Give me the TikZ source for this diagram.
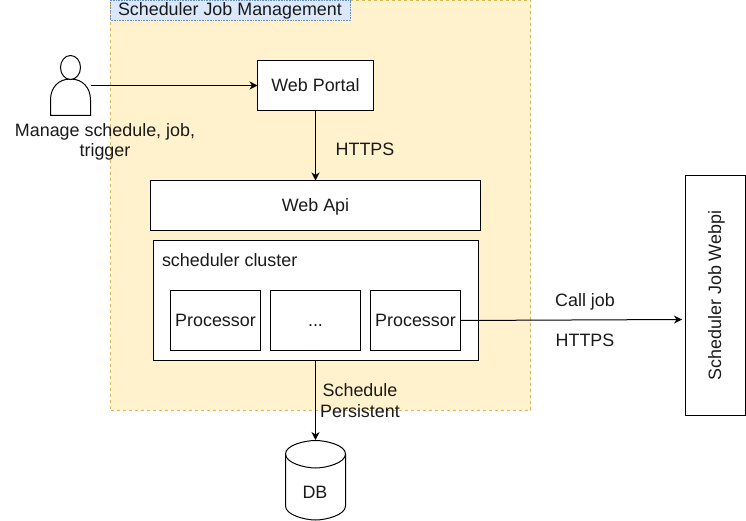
\documentclass[tikz,border=0pt]{standalone}
\usepackage{fontspec}
\setmainfont{Liberation Sans}
\usetikzlibrary{arrows.meta,shapes.geometric}
\definecolor{zonefill}{HTML}{FFF2CC}
\definecolor{zoneline}{HTML}{D6B656}
\definecolor{tagfill}{HTML}{DAE8FC}
\definecolor{tagline}{HTML}{6C8EBF}
\definecolor{inktext}{HTML}{1A1A1A}
\tikzset{
  x=1pt,y=-1pt,
  every node/.style={font=\fontsize{17.9}{20.5}\selectfont,text=inktext,inner sep=0pt,outer sep=0pt,text height=15pt,text depth=3pt},
  boxnode/.style={draw=black,fill=white,line width=1pt,anchor=north west},
  conn/.style={draw=black,line width=1pt,-{Stealth[length=8pt,width=8pt,inset=2.5pt]}},
  plain/.style={align=center}
}
\begin{document}
\begin{tikzpicture}
\useasboundingbox (0,0) rectangle (746,521);
\fill[white] (0,0) rectangle (746,521);
% zone
\node[anchor=north west,fill=zonefill,draw=zoneline,dashed,line width=.8pt,minimum width=420pt,minimum height=410pt] (zone) at (110.5,0) {};
\node[anchor=north west,fill=tagfill,draw=tagline,densely dotted,line width=.6pt,minimum width=240pt,minimum height=20.5pt] (tag) at (110.5,0) {};
\node[anchor=west] (tagtext) at (118,10) {Scheduler Job Management};
% actor
\node[anchor=north west,minimum width=40pt,minimum height=60pt] (actor) at (50.5,55.5) {};
\draw[line width=1pt,fill=white] (50.5,115.5) -- (50.5,100) .. controls (50.5,88) and (58,79) .. (70.5,79) .. controls (83,79) and (90.5,88) .. (90.5,100) -- (90.5,115.5) -- cycle;
\draw[line width=1pt,fill=white] (70.5,67.5) ellipse [x radius=10, y radius=12];
\node[plain] (actorlabel) at (105,151) {Manage schedule, job,\\trigger};
% boxes
\node[boxnode,minimum width=116pt,minimum height=50pt] (portal) at (257.5,60.5) {};
\node at (portal.center) (portaltext) {Web Portal};
\node[boxnode,minimum width=330pt,minimum height=50pt] (api) at (150.5,180.5) {};
\node at (api.center) (apitext) {Web Api};
\node[boxnode,minimum width=325pt,minimum height=120pt] (cluster) at (153,240.5) {};
\node[anchor=west] (clustertext) at (162,260) {scheduler cluster};
\node[boxnode,minimum width=90pt,minimum height=60pt] (p1) at (170.5,290.5) {};
\node at (p1.center) (p1text) {Processor};
\node[boxnode,minimum width=90pt,minimum height=60pt] (p2) at (270.5,290.5) {};
\node at (p2.center) (p2text) {...};
\node[boxnode,minimum width=90pt,minimum height=60pt] (p3) at (370.5,290.5) {};
\node at (p3.center) (p3text) {Processor};
\node[boxnode,minimum width=60pt,minimum height=240pt] (webpi) at (685.5,175.5) {};
\node[rotate=90] (webpitext) at (715,295.5) {Scheduler Job Webpi};
% db
\node[anchor=north west,minimum width=60pt,minimum height=80pt] (db) at (285.5,440) {};
\draw[line width=1pt,fill=white] (285.5,454) .. controls (285.5,445) and (305,440.5) .. (315.5,440.5) .. controls (326,440.5) and (345.5,445) .. (345.5,454) -- (345.5,506) .. controls (345.5,515) and (326,520) .. (315.5,520) .. controls (305,520) and (285.5,515) .. (285.5,506) -- cycle;
\draw[line width=1pt] (285.5,454) .. controls (285.5,463) and (305,468) .. (315.5,468) .. controls (326,468) and (345.5,463) .. (345.5,454);
\node (dbtext) at (315,492) {DB};
% labels
\node (https1) at (365,150) {HTTPS};
\node[plain] (sched) at (360,411) {Schedule\\Persistent};
\node (calljob) at (585,300) {Call job};
\node (https2) at (585,340) {HTTPS};
% connectors
\coordinate (actorout) at (90.5,85.5);
\coordinate (portalin) at (portal.west |- actorout);
\draw[conn] (actorout) -- (portalin);
\draw[conn] (portal.south) -- (api.north -| portal.south);
\coordinate (clusterout) at (315.5,360.5);
\draw[conn] (clusterout) -- (db.north -| clusterout);
\coordinate (jobin) at (682,319.5);
\draw[conn] (p3.east) -- (jobin);
\end{tikzpicture}
\end{document}
